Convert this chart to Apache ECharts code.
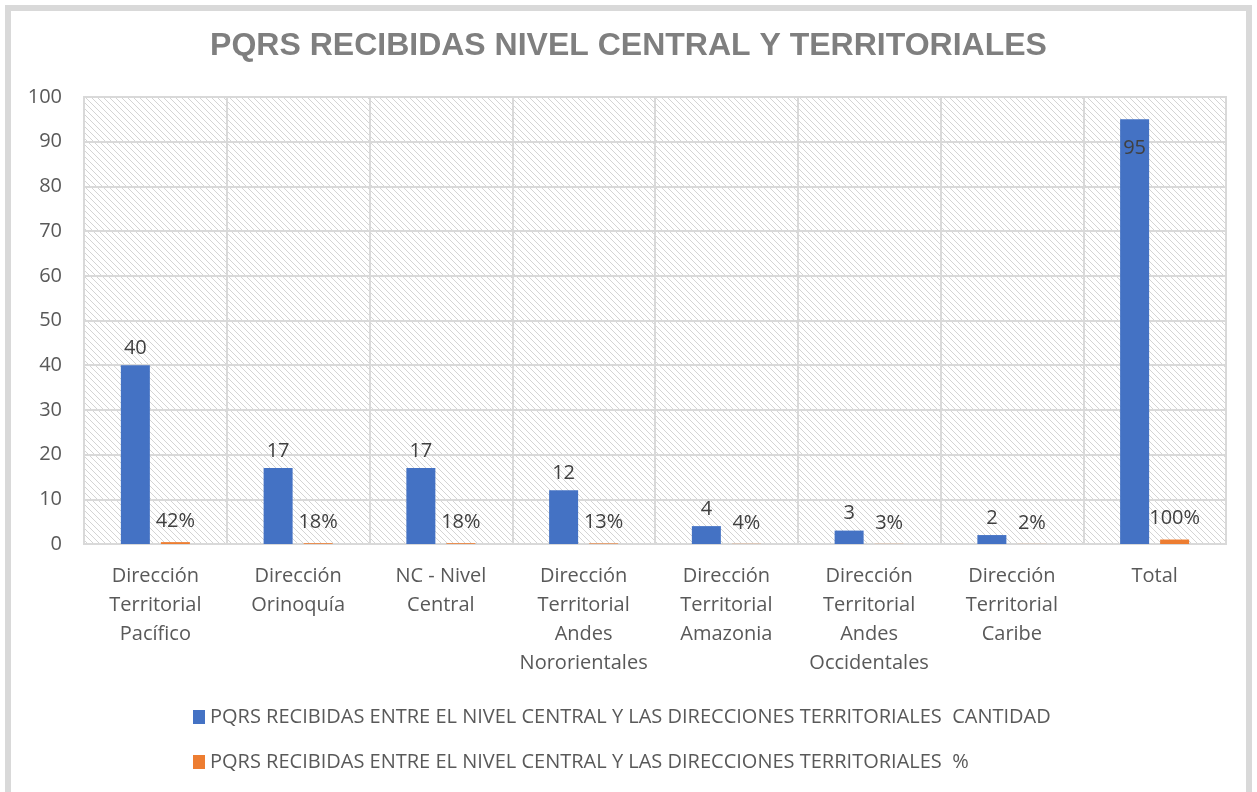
<!DOCTYPE html>
<html>
<head>
<meta charset="utf-8">
<script src="https://cdn.jsdelivr.net/npm/echarts@6/dist/echarts.min.js"></script>
<style>
  html, body { margin: 0; padding: 0; background: #fff; }
  #chart { width: 1257px; height: 792px; }
</style>
</head>
<body>
<div id="chart"></div>
<script>
// datos
const categories = [
  'Dirección\nTerritorial\nPacífico',
  'Dirección\nOrinoquía',
  'NC - Nivel\nCentral',
  'Dirección\nTerritorial\nAndes\nNororientales',
  'Dirección\nTerritorial\nAmazonia',
  'Dirección\nTerritorial\nAndes\nOccidentales',
  'Dirección\nTerritorial\nCaribe',
  'Total'
]
const cantidad = [40, 17, 17, 12, 4, 3, 2, 95]
const porcentaje = [0.42, 0.18, 0.18, 0.13, 0.04, 0.03, 0.02, 1]
const yTicks = { min: 0, max: 100, interval: 10 }

const seriesNames = [
  'PQRS RECIBIDAS ENTRE EL NIVEL CENTRAL Y LAS DIRECCIONES TERRITORIALES  CANTIDAD',
  'PQRS RECIBIDAS ENTRE EL NIVEL CENTRAL Y LAS DIRECCIONES TERRITORIALES  %'
]

const FONT = 'Open Sans'

// trama diagonal del área de trazado
function hatchPattern () {
  const c = document.createElement('canvas')
  c.width = 6
  c.height = 6
  const ctx = c.getContext('2d')
  ctx.fillStyle = '#ffffff'
  ctx.fillRect(0, 0, 6, 6)
  ctx.strokeStyle = '#d4d4d4'
  ctx.lineWidth = 1
  ctx.beginPath()
  ctx.moveTo(-1, -1); ctx.lineTo(7, 7)
  ctx.moveTo(-1, 5); ctx.lineTo(1, 7)
  ctx.moveTo(5, -1); ctx.lineTo(7, 1)
  ctx.stroke()
  return c
}

const chart = echarts.init(document.getElementById('chart'))

const labelStyle = {
  show: true,
  position: 'top',
  distance: 7,
  color: '#404040',
  fontFamily: FONT,
  fontSize: 20
}

chart.setOption({
  backgroundColor: '#fff',
  animation: false,
  title: {
    text: 'PQRS RECIBIDAS NIVEL CENTRAL Y TERRITORIALES',
    left: 'center',
    top: 25,
    textStyle: {
      fontFamily: 'Liberation Sans',
      fontWeight: 'bold',
      fontSize: 32,
      color: '#7f7f7f'
    }
  },
  graphic: [{
    type: 'rect',
    shape: { x: 8, y: 8, width: 1241, height: 820 },
    style: { fill: 'none', stroke: '#d9d9d9', lineWidth: 6 },
    silent: true
  }],
  legend: {
    orient: 'vertical',
    left: 188,
    top: 702,
    itemGap: 25,
    itemWidth: 12,
    itemHeight: 14,
    icon: 'rect',
    textStyle: { fontFamily: FONT, fontSize: 20, color: '#595959' },
    data: seriesNames
  },
  grid: {
    left: 84,
    right: 31,
    top: 97,
    bottom: 248,
    show: true,
    borderWidth: 2,
    borderColor: '#d9d9d9',
    backgroundColor: { image: hatchPattern(), repeat: 'repeat' }
  },
  xAxis: {
    type: 'category',
    data: categories,
    axisLine: { lineStyle: { color: '#d9d9d9', width: 2 } },
    axisTick: { show: false },
    splitLine: { show: true, lineStyle: { color: '#d9d9d9', width: 2 } },
    axisLabel: {
      interval: 0,
      margin: 18,
      color: '#595959',
      fontFamily: FONT,
      fontSize: 20,
      lineHeight: 29
    }
  },
  yAxis: {
    type: 'value',
    min: yTicks.min,
    max: yTicks.max,
    interval: yTicks.interval,
    axisLine: { show: false },
    axisTick: { show: false },
    splitLine: { lineStyle: { color: '#d9d9d9', width: 2 } },
    axisLabel: {
      margin: 22,
      color: '#595959',
      fontFamily: FONT,
      fontSize: 20
    }
  },
  series: [
    {
      name: seriesNames[0],
      type: 'bar',
      barWidth: 29,
      barGap: '38%',
      itemStyle: { color: '#4472c4' },
      label: labelStyle,
      data: cantidad.map(v => v > 90
        ? { value: v, label: { position: 'insideTop', distance: 19 } }
        : v)
    },
    {
      name: seriesNames[1],
      type: 'bar',
      barWidth: 29,
      itemStyle: { color: '#ed7d31' },
      label: Object.assign({}, labelStyle, {
        distance: 11,
        formatter: p => Math.round(p.value * 100) + '%'
      }),
      data: porcentaje
    }
  ]
})
</script>
</body>
</html>
